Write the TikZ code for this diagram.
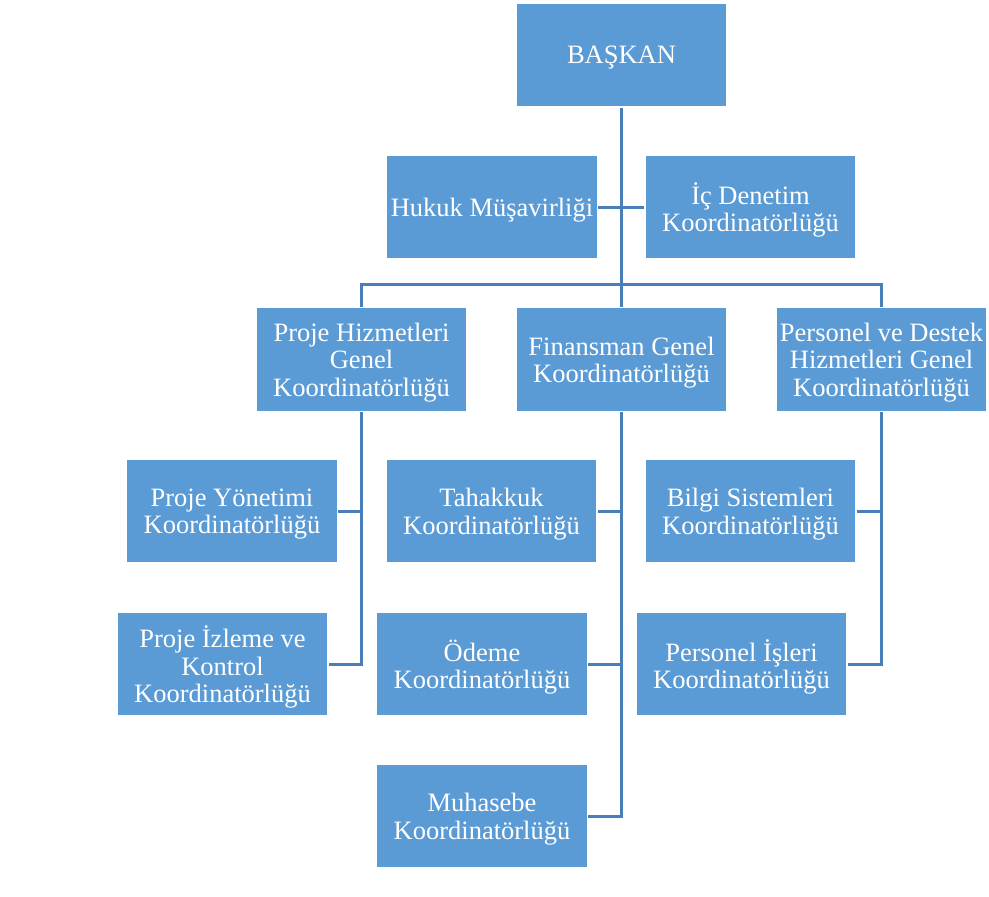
\documentclass[tikz,border=0pt]{standalone}
\usepackage{fontspec}
\setmainfont{Liberation Serif}
\usetikzlibrary{calc}
\definecolor{boxblue}{HTML}{5B9BD5}
\definecolor{linkblue}{HTML}{4A7EBB}
\tikzset{
  unit/.style={draw=white, line width=1.2pt, fill=boxblue,
    minimum width=211pt, minimum height=104pt, inner sep=0pt},
  lbl/.style={text=white, inner sep=0pt, align=center, yshift=-3pt,
    font=\fontsize{26.5}{27.5}\selectfont},
  link/.style={draw=linkblue, line width=3pt}
}
\begin{document}
\begin{tikzpicture}[x=1pt,y=-1pt]
\useasboundingbox (0,0) rectangle (989,897);
\node[unit] (baskan) at (621.5,55) {};
\node[unit] (hukuk) at (492,207) {};
\node[unit] (ic) at (750.5,207) {};
\node[unit] (proje) at (361.5,359.5) {};
\node[unit] (fin) at (621.5,359.5) {};
\node[unit] (pers) at (881.5,359.5) {};
\node[unit] (py) at (232,511) {};
\node[unit] (tah) at (491.5,511) {};
\node[unit] (bilgi) at (750.5,511) {};
\node[unit] (pi) at (222.5,664) {};
\node[unit] (ode) at (482,664) {};
\node[unit] (pis) at (741.5,664) {};
\node[unit] (muh) at (482,816) {};
\node[lbl] (baskant) at (baskan.center) {BAŞKAN};
\node[lbl] (hukukt) at (hukuk.center) {Hukuk Müşavirliği};
\node[lbl] (ict) at (ic.center) {İç Denetim\\Koordinatörlüğü};
\node[lbl] (projet) at (proje.center) {Proje Hizmetleri\\Genel\\Koordinatörlüğü};
\node[lbl] (fint) at (fin.center) {Finansman Genel\\Koordinatörlüğü};
\node[lbl] (perst) at (pers.center) {Personel ve Destek\\Hizmetleri Genel\\Koordinatörlüğü};
\node[lbl] (pyt) at (py.center) {Proje Yönetimi\\Koordinatörlüğü};
\node[lbl] (taht) at (tah.center) {Tahakkuk\\Koordinatörlüğü};
\node[lbl] (bilgit) at (bilgi.center) {Bilgi Sistemleri\\Koordinatörlüğü};
\node[lbl] (pit) at (pi.center) {Proje İzleme ve\\Kontrol\\Koordinatörlüğü};
\node[lbl] (odet) at (ode.center) {Ödeme\\Koordinatörlüğü};
\node[lbl] (pist) at (pis.center) {Personel İşleri\\Koordinatörlüğü};
\node[lbl] (muht) at (muh.center) {Muhasebe\\Koordinatörlüğü};
\coordinate (bus) at (621.5,284);
\draw[link] (baskan.south) -- (fin.north);
\draw[link] (hukuk.east) -- (ic.west);
\draw[link] (proje.north) |- (bus) -| (pers.north);
\draw[link] (proje.south) |- (pi.east);
\draw[link] (py.east) -- (py.east -| proje.south);
\draw[link] (fin.south) |- (muh.east);
\draw[link] (tah.east) -- (tah.east -| fin.south);
\draw[link] (ode.east) -- (ode.east -| fin.south);
\draw[link] (pers.south) |- (pis.east);
\draw[link] (bilgi.east) -- (bilgi.east -| pers.south);
\end{tikzpicture}
\end{document}
